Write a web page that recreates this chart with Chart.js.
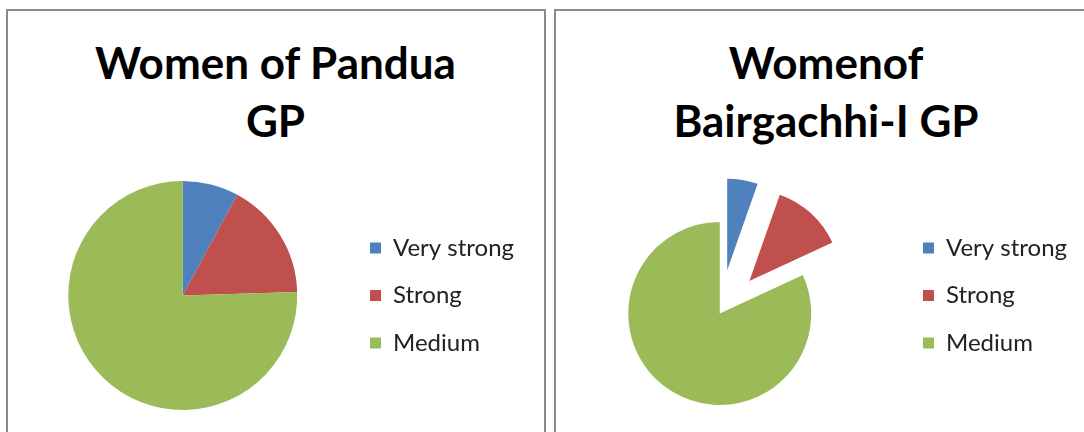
<!DOCTYPE html>
<html>
<head>
<meta charset="utf-8">
<script src="https://cdn.jsdelivr.net/npm/chart.js@4.4.1/dist/chart.umd.min.js"></script>
<style>
  html, body { margin: 0; padding: 0; background: #ffffff; width: 1084px; height: 432px; overflow: hidden; }
  .box { position: absolute; border: 2px solid #8a8a8a; box-sizing: border-box; background: transparent; }
  .title { position: absolute; text-align: center; font-family: Lato, "Open Sans", sans-serif; font-weight: 700;
           font-size: 44px; line-height: 58px; color: #000; white-space: nowrap; }
  canvas { position: absolute; }
</style>
</head>
<body>
<div class="box" style="left:6px;top:9px;width:540px;height:500px"></div>
<div class="box" style="left:554px;top:9px;width:600px;height:500px"></div>
<div class="title" id="t1" style="left:8px;top:33px;width:535px"></div>
<div class="title" id="t2" style="left:556px;top:33px;width:540px"></div>
<canvas id="c1" width="536" height="290" style="left:8px;top:150px"></canvas>
<canvas id="c2" width="560" height="290" style="left:530px;top:150px"></canvas>
<script>
// ---- data ----
const categories = ['Very strong', 'Strong', 'Medium'];
const panduaValues = [7.9, 16.6, 75.5];
const bairgachhiValues = [5.4, 12.7, 81.9];
const panduaTitle = ['Women of Pandua', 'GP'];
const bairgachhiTitle = ['Womenof', 'Bairgachhi-I GP'];
const sliceColors = ['#4F81BD', '#C0504D', '#9BBB59'];

// ---- titles (real text) ----
document.getElementById('t1').innerHTML = panduaTitle.join('<br>');
document.getElementById('t2').innerHTML = bairgachhiTitle.join('<br>');

// ---- styling ----
const LEG_FONT = 24, LEG_PAD = 23.5, BOX = 11, FONT_FAMILY = 'Lato';

function legendWidth(labels) {
  const c = document.createElement('canvas').getContext('2d');
  c.font = 'normal ' + LEG_FONT + 'px ' + FONT_FAMILY;
  const tw = Math.max(...labels.map(l => c.measureText(l).width));
  return LEG_PAD + BOX + LEG_FONT / 2 + tw + 10;
}

// explode plugin: moves slices outward along their mid-angle
const explodePlugin = {
  id: 'explode',
  beforeDatasetDraw(chart, args, opts) {
    const dist = (opts && opts.distance) || [];
    if (!dist.some(d => d)) return;
    const ctx = chart.ctx;
    args.meta.data.forEach((arc, i) => {
      const d = dist[i] || 0;
      const mid = (arc.startAngle + arc.endAngle) / 2;
      ctx.save();
      ctx.translate(Math.cos(mid) * d, Math.sin(mid) * d);
      arc.draw(ctx);
      ctx.restore();
    });
    return false;
  }
};

function makePie(canvasId, values, cfg) {
  const canvas = document.getElementById(canvasId);
  const lw = legendWidth(categories);
  const padRight = canvas.width - cfg.legendLeft - lw;
  return new Chart(canvas, {
    type: 'pie',
    data: {
      labels: categories,
      datasets: [{
        data: values,
        backgroundColor: sliceColors,
        borderWidth: 0,
        hoverBorderWidth: 0,
        hoverOffset: 0,
        offset: 0,
        radius: cfg.radius
      }]
    },
    options: {
      responsive: false,
      animation: false,
      events: [],
      layout: { padding: { left: cfg.padLeft, right: padRight, top: cfg.padTop, bottom: cfg.padBottom } },
      plugins: {
        title: { display: false },
        tooltip: { enabled: false },
        explode: { distance: cfg.explode || [] },
        legend: {
          position: 'right',
          align: cfg.legendAlign,
          labels: {
            boxWidth: BOX,
            boxHeight: BOX,
            padding: LEG_PAD,
            color: '#222222',
            font: { family: FONT_FAMILY, size: LEG_FONT }
          }
        }
      }
    },
    plugins: [explodePlugin]
  });
}

makePie('c1', panduaValues, {
  padLeft: 11, padTop: 31, padBottom: 30, legendLeft: 338.5, legendAlign: 'center'
});
makePie('c2', bairgachhiValues, {
  padLeft: 10, padTop: 62.5, padBottom: 25.5, legendLeft: 369.5, legendAlign: 'start',
  radius: 91.5, explode: [44, 44, 0]
});
</script>
</body>
</html>
